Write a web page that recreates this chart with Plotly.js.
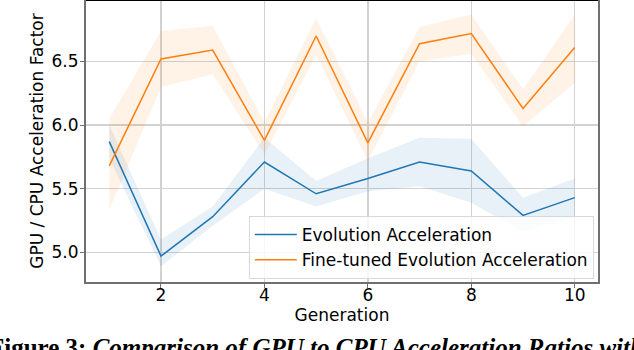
<!DOCTYPE html>
<html>
<head>
<meta charset="utf-8">
<script src="https://cdn.plot.ly/plotly-3.0.1.min.js"></script>
<style>
  body { margin: 0; padding: 0; background: #fff; }
  #AccelChart { width: 634px; height: 350px; }
</style>
</head>
<body>
<div id="AccelChart"></div>
<script>
// values
var generations = [1, 2, 3, 4, 5, 6, 7, 8, 9, 10];

var evoMean = [5.87, 4.97, 5.28, 5.71, 5.46, 5.58, 5.71, 5.64, 5.29, 5.43];
var evoLow  = [5.74, 4.89, 5.21, 5.50, 5.36, 5.48, 5.52, 5.39, 5.16, 5.28];
var evoHigh = [6.00, 5.10, 5.36, 5.90, 5.56, 5.74, 5.90, 5.89, 5.43, 5.58];

var ftMean = [5.68, 6.52, 6.59, 5.88, 6.70, 5.86, 6.64, 6.72, 6.13, 6.61];
var ftLow  = [5.33, 6.30, 6.40, 5.77, 6.55, 5.72, 6.50, 6.56, 5.99, 6.33];
var ftHigh = [6.05, 6.74, 6.78, 6.02, 6.84, 6.02, 6.77, 6.87, 6.28, 6.87];

var seriesNames = ['Evolution Acceleration', 'Fine-tuned Evolution Acceleration'];
var xTicks = [2, 4, 6, 8, 10];
var yTicks = [5.0, 5.5, 6.0, 6.5];

function band(low, high, color){
    var xs = generations.concat(generations.slice().reverse());
    var ys = high.concat(low.slice().reverse());
    return {
        x: xs,
        y: ys,
        type: 'scatter',
        mode: 'lines',
        fill: 'toself',
        fillcolor: color,
        line: { width: 0 },
        hoverinfo: 'skip',
        showlegend: false
    };
}

function meanLine(values, name, color){
    return {
        x: generations,
        y: values,
        type: 'scatter',
        mode: 'lines',
        name: name,
        line: { color: color, width: 1.5 }
    };
}

var data = [
    band(evoLow, evoHigh, 'rgba(31,119,180,0.1)'),
    band(ftLow, ftHigh, 'rgba(255,127,14,0.1)'),
    meanLine(evoMean, seriesNames[0], '#1f77b4'),
    meanLine(ftMean, seriesNames[1], '#ff7f0e')
];

var spine = '#707070';
var layout = {
    width: 634,
    height: 350,
    margin: { l: 86, r: 36, t: 0, b: 68 },
    paper_bgcolor: '#fff',
    plot_bgcolor: '#fff',
    font: { family: 'DejaVu Sans', size: 17, color: '#000' },
    xaxis: {
        range: [0.55, 10.45],
        tickvals: xTicks,
        ticks: 'outside',
        ticklen: 4,
        tickwidth: 1,
        tickcolor: spine,
        ticklabelstandoff: -7,
        showline: true,
        linecolor: spine,
        linewidth: 2,
        mirror: true,
        showgrid: true,
        gridcolor: '#d2d2d2',
        gridwidth: 1.3,
        zeroline: false,
        title: { text: 'Generation', standoff: 0, font: { size: 17 } }
    },
    yaxis: {
        range: [4.767, 6.983],
        tickvals: yTicks,
        tickformat: '.1f',
        ticks: 'outside',
        ticklen: 4,
        tickwidth: 1,
        tickcolor: spine,
        ticklabelstandoff: -2,
        showline: true,
        linecolor: spine,
        linewidth: 2,
        mirror: true,
        showgrid: true,
        gridcolor: '#d2d2d2',
        gridwidth: 1.3,
        zeroline: false,
        title: { text: 'GPU / CPU Acceleration Factor', standoff: 4, font: { size: 17 } }
    },
    legend: {
        x: 0.318,
        y: 0.234,
        xanchor: 'left',
        yanchor: 'top',
        itemwidth: 42,
        bgcolor: 'rgba(255,255,255,0.8)',
        bordercolor: '#d8d8d8',
        borderwidth: 1,
        font: { size: 17 }
    },
    shapes: [{
        type: 'line', xref: 'paper', yref: 'paper',
        x0: 0, x1: 1, y0: 1, y1: 1,
        line: { color: '#000', width: 2 }
    }],
    annotations: [{
        xref: 'paper', yref: 'paper',
        x: -0.193, y: -0.177,
        xanchor: 'left', yanchor: 'top',
        showarrow: false,
        align: 'left',
        text: '<b>Figure 3: </b><b><i>Comparison of GPU to CPU Acceleration Ratios with</i></b>',
        font: { family: 'Liberation Serif', size: 25, color: '#000' }
    }]
};

Plotly.newPlot('AccelChart', data, layout, { displayModeBar: false, staticPlot: true });
</script>
</body>
</html>
